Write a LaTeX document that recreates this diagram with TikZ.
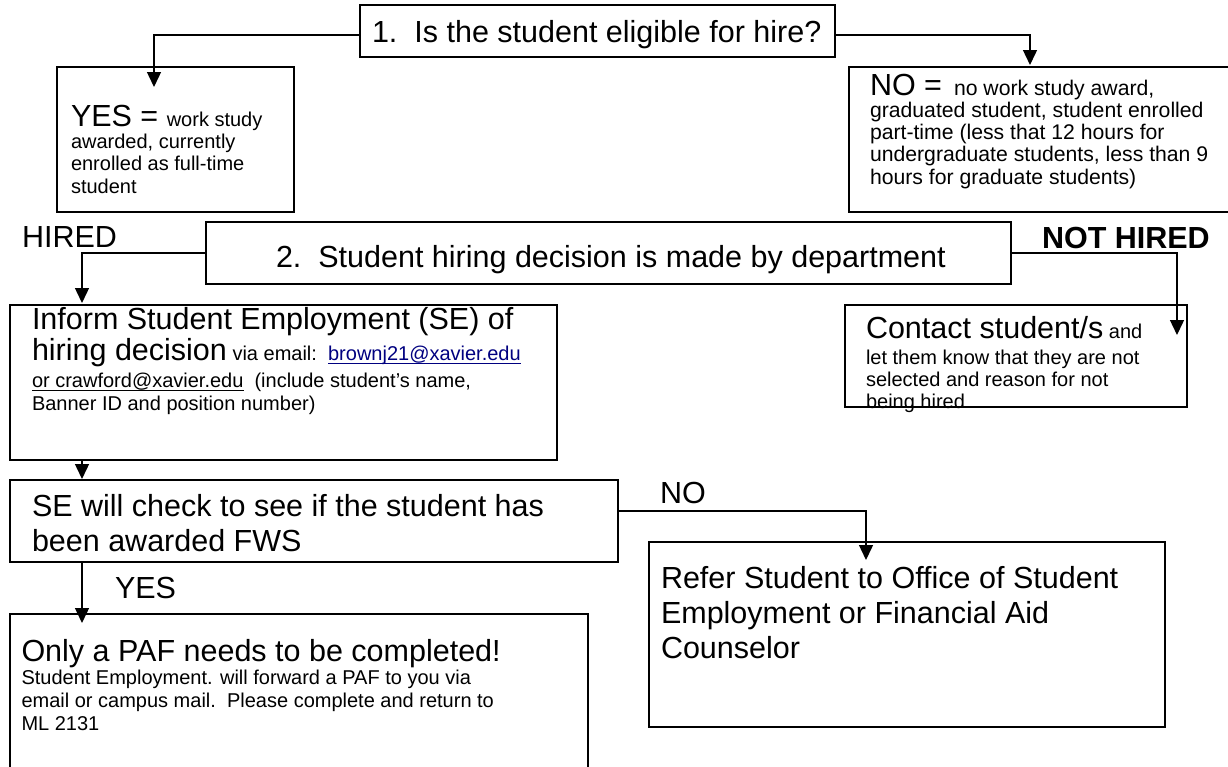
\documentclass[tikz,border=0pt]{standalone}
\usepackage{fontspec}
\setmainfont{Liberation Sans}
\usetikzlibrary{arrows.meta}
\definecolor{linkblue}{HTML}{000080}
% text sizes used in the flow chart
\newcommand\fbig{\fontsize{30.5}{35}\selectfont}
\newcommand\fsmall{\fontsize{20}{22.4}\selectfont}
% left-aligned block of lines whose baseline is the first line
\newcommand\rowsblock[1]{\begin{tabular}[t]{@{}l@{}}#1\end{tabular}}
% underline set just below the baseline, as for e-mail addresses
\newcommand\ulined[1]{\setbox0=\hbox{#1}\rlap{\rule[-3.2pt]{\wd0}{1.2pt}}\box0}

\begin{document}
\begin{tikzpicture}[x=1pt,y=-1pt,
  boxA/.style={draw, line width=1.9pt, inner sep=0pt, outer sep=0pt, anchor=north west},
  boxB/.style={boxA, line width=1.3pt},
  arr/.style={line width=1.4pt, -{Triangle[width=14pt,length=15pt]}},
  lbl/.style={anchor=base west, inner sep=0pt, outer sep=0pt}]
\useasboundingbox (0,0) rectangle (1228,766);
\clip (0,0) rectangle (1228,766);

% boxes
\node[boxA, minimum width=475pt, minimum height=52pt]  (q1)      at (360,5)   {};
\node[boxA, minimum width=237pt, minimum height=145pt] (yes)     at (57,67)   {};
\node[boxA, minimum width=400pt, minimum height=145pt] (no)      at (849,67)  {};
\node[boxA, minimum width=805pt, minimum height=62pt]  (hire)    at (206,222) {};
\node[boxB, minimum width=547pt, minimum height=155pt] (inform)  at (10,305)  {};
\node[boxB, minimum width=342pt, minimum height=102pt] (contact) at (845,305) {};
\node[boxA, minimum width=608pt, minimum height=82pt]  (se)      at (10,480)  {};
\node[boxB, minimum width=516pt, minimum height=185pt] (refer)   at (649,542) {};
\node[boxB, minimum width=578pt, minimum height=200pt] (paf)     at (10,614)  {};

% connectors
\draw[arr] ([yshift=-4pt]q1.west) -| ([xshift=-21.5pt,yshift=-20pt]yes.north);
\draw[arr] ([yshift=-4pt]q1.east) -| ([xshift=-19pt,yshift=2pt]no.north);
\draw[arr] (hire.west) -| ([xshift=-201.5pt,yshift=2pt]inform.north);
\draw[arr] (hire.east) -| ([xshift=161pt,yshift=-30pt]contact.north);
\draw[arr] ([xshift=-201.5pt]inform.south) -- ([xshift=-232pt,yshift=1pt]se.north);
\draw[arr] ([xshift=-232pt]se.south) -- ([xshift=-217pt,yshift=-9pt]paf.north);
\draw[arr] ([yshift=10pt]se.east) -| ([xshift=-41pt,yshift=-18pt]refer.north);

% texts
\node[lbl] (q1t) at (372,42) {\fbig 1.\ \ Is the student eligible for hire?};
\node[lbl] (yest) at (71,126) {\fsmall\rowsblock{{\fbig YES = }work study\\
  awarded, currently\\ enrolled as full-time\\ student}};
\node[lbl] (not) at (870,95) {\fontsize{21.2}{22.3}\selectfont\rowsblock{{\fbig NO =}\hspace{12pt}no work study award,\\
  graduated student, student enrolled\\ part-time (less that 12 hours for\\
  undergraduate students, less than 9\\ hours for graduate students)}};
\node[lbl] (hiredl) at (22,247) {\fbig HIRED};
\node[lbl] (nothiredl) at (1042,248) {\fbig\bfseries NOT HIRED};
\node[lbl] (hiret) at (276,267) {\fbig 2.\ \ Student hiring decision is made by department};
\node[lbl] (informt) at (32,329) {\fsmall\rowsblock{{\fbig Inform Student Employment (SE) of}\\[3.1pt]
  {\fbig hiring decision} via email:\ \ \textcolor{linkblue}{\ulined{brownj21@xavier.edu}}\\[4.6pt]
  \ulined{or crawford@xavier.edu}\ \ (include student’s name,\\
  Banner ID and position number)}};
\node[lbl] (contactt) at (866,338) {\fsmall\rowsblock{{\fbig Contact student/s} and\\[3.6pt]
  let them know that they are not\\ selected and reason for not\\ being hired}};
\node[lbl] (set) at (32,516) {\fbig\rowsblock{SE will check to see if the student has\\ been awarded FWS}};
\node[lbl] (nolbl) at (660,503) {\fbig NO};
\node[lbl] (yeslbl) at (115,598) {\fbig YES};
\node[lbl] (paft) at (21.5,661) {\fontsize{20}{23}\selectfont\rowsblock{{\fbig Only a PAF needs to be completed!}\\
  Student Employment. will forward a PAF to you via\\
  email or campus mail.\ \ Please complete and return to\\ ML 2131}};
\node[lbl] (refert) at (661,588) {\fbig\rowsblock{Refer Student to Office of Student\\
  Employment or Financial Aid\\ Counselor}};
\end{tikzpicture}
\end{document}
